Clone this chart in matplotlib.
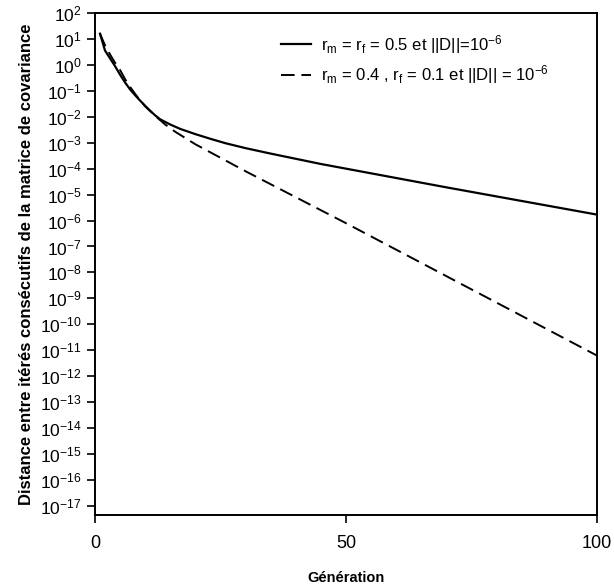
import numpy as np
import matplotlib
matplotlib.use("Agg")
import matplotlib.pyplot as plt
from matplotlib.ticker import LogLocator, NullLocator

plt.rcParams['font.family'] = ['Liberation Sans', 'DejaVu Sans']
plt.rcParams['mathtext.fontset'] = 'custom'
plt.rcParams['mathtext.rm'] = 'Liberation Sans'
plt.rcParams['mathtext.it'] = 'Liberation Sans'
plt.rcParams['mathtext.bf'] = 'Liberation Sans:bold'

# solid curve: r_m = r_f = 0.5
gen_solid = [1, 2, 3, 4, 5, 6, 7, 8, 9, 10, 11, 12, 13, 15, 17, 20, 23, 26, 30, 35, 40, 45, 50, 55, 60,
             70, 80, 90, 100]
log_solid = [1.2, 0.55, 0.25, -0.05, -0.38, -0.68, -0.95, -1.17, -1.38, -1.58, -1.77, -1.95, -2.1,
             -2.3, -2.47, -2.67, -2.85, -3.02, -3.21, -3.42, -3.62, -3.82, -4.0, -4.18, -4.36,
             -4.72, -5.07, -5.42, -5.77]

# dashed curve: r_m = 0.4, r_f = 0.1
gen_dash = [1, 2, 3, 4, 5, 6, 7, 8, 9, 10, 12, 14, 16, 20, 30, 40, 50, 60, 70, 80, 90, 100]
log_dash = [1.2, 0.75, 0.4, 0.08, -0.2, -0.55, -0.85, -1.12, -1.37, -1.6, -1.97, -2.3, -2.58,
            -3.06, -4.1, -5.1, -6.1, -7.12, -8.14, -9.16, -10.18, -11.2]

label_solid = r"r$_\mathrm{m}$ = r$_\mathrm{f}$ = 0.5 et ||D||=10$^{-6}$"
label_dash = r"r$_\mathrm{m}$ = 0.4 , r$_\mathrm{f}$ = 0.1 et ||D|| = 10$^{-6}$"

fig = plt.figure(figsize=(6.14, 5.88), dpi=100)
ax = fig.add_axes([0.1547, 0.124, 0.8173, 0.854])

ax.plot(gen_solid, 10.0 ** np.array(log_solid), color='black', lw=1.6, label=label_solid)
ax.plot(gen_dash, 10.0 ** np.array(log_dash), color='black', lw=1.4,
        linestyle=(0, (7, 3.5)), label=label_dash)

ax.set_yscale('log')
ax.set_xlim(0, 100)
ax.set_ylim(10 ** -17.35, 1e2)
ax.yaxis.set_major_locator(LogLocator(base=10, numticks=30))
ax.yaxis.set_minor_locator(NullLocator())
ax.set_xticks([0, 50, 100])

ax.tick_params(axis='both', direction='out', length=6, width=1.2, labelsize=12.5, color='black')
ax.tick_params(axis='x', pad=8, labelsize=13)
for s in ax.spines.values():
    s.set_linewidth(1.4)

ax.set_xlabel("Génération", fontsize=10.5, fontweight='bold', labelpad=14)
ax.set_ylabel("Distance entre itérés consécutifs de la matrice de covariance",
              fontsize=12, fontweight='bold', labelpad=4)

leg = ax.legend(loc='upper left', bbox_to_anchor=(0.34, 0.99), frameon=False,
                fontsize=12, handlelength=1.8, handletextpad=0.6, labelspacing=0.45)

fig.savefig("out.png", dpi=100)
